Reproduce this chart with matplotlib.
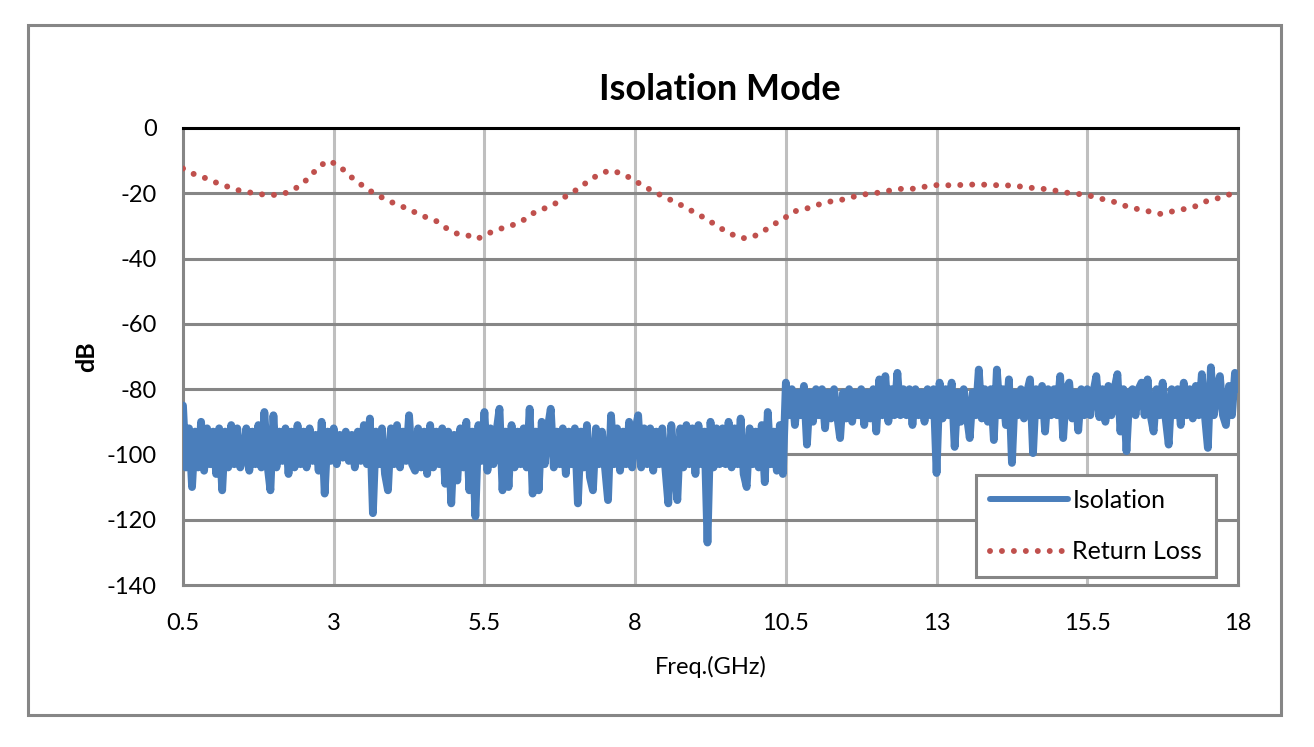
import matplotlib

matplotlib.use("Agg")

import numpy as np
import matplotlib.pyplot as plt
from matplotlib.patches import Rectangle

plt.rcParams["font.family"] = ["Lato", "DejaVu Sans"]
plt.rcParams["axes.unicode_minus"] = False

# Isolation trace, read every 0.05 GHz from 0.5 to 18 GHz
iso_start, iso_step = 0.5, 0.05
isolation_db = [
    # 0.5 - 1.45
    -85, -104, -92, -110, -93, -104, -90, -105, -92, -103,
    -93, -106, -92, -111, -93, -104, -91, -103, -92, -104,
    # 1.5 - 2.45
    -101, -92, -105, -93, -103, -91, -104, -87, -103, -111,
    -88, -104, -93, -102, -92, -106, -93, -104, -91, -103,
    # 2.5 - 3.45
    -93, -104, -92, -102, -94, -105, -90, -112, -93, -102,
    -92, -103, -94, -101, -93, -102, -94, -104, -93, -102,
    # 3.5 - 4.45
    -91, -103, -89, -118, -93, -103, -92, -106, -111, -92,
    -103, -91, -104, -93, -102, -88, -103, -105, -92, -104,
    # 4.5 - 5.45
    -93, -106, -91, -104, -93, -103, -92, -109, -93, -115,
    -94, -108, -92, -104, -90, -111, -93, -119, -91, -102,
    # 5.5 - 6.45
    -87, -105, -92, -103, -93, -86, -111, -93, -110, -91,
    -104, -93, -103, -92, -104, -86, -112, -93, -111, -90,
    # 6.5 - 7.45
    -103, -92, -86, -104, -93, -103, -92, -106, -93, -103,
    -92, -115, -93, -104, -91, -107, -111, -92, -103, -93,
    # 7.5 - 8.45
    -104, -114, -88, -103, -92, -105, -93, -103, -90, -104,
    -93, -88, -104, -92, -103, -92, -105, -93, -103, -92,
    # 8.5 - 9.45
    -104, -115, -91, -103, -114, -92, -104, -91, -103, -92,
    -106, -91, -103, -93, -127, -90, -104, -92, -103, -92,
    # 9.5 - 10.45
    -103, -90, -104, -92, -103, -89, -106, -110, -92, -103,
    -93, -104, -91, -108.5, -87, -103, -93, -105, -91, -106,
    # 10.5 - 11.45
    -78, -88, -80, -91, -81, -88, -79, -97, -81, -90,
    -80, -88, -80, -92, -81, -89, -80, -88, -95, -81,
    # 11.5 - 12.45
    -89, -80, -90, -81, -88, -80, -91, -81, -89, -80,
    -93, -77, -88, -76, -90, -80, -88, -75, -88, -80,
    # 12.5 - 13.45
    -88, -80, -91, -80, -88, -81, -90, -80, -88, -80,
    -105.7, -78, -89, -80, -88, -78, -97.7, -81, -90, -80,
    # 13.5 - 14.45
    -88, -95, -81, -88, -74, -89, -80, -90, -80, -95.6,
    -74, -88, -80, -91, -77, -102.6, -81, -88, -80, -89,
    # 14.5 - 15.45
    -81, -77, -99.6, -80, -88, -79, -93, -80, -88, -80,
    -88, -76, -95, -80, -78, -89, -81, -92.7, -80, -88,
    # 15.5 - 16.45
    -80, -88, -81, -76, -88.6, -80, -90, -79, -88, -80,
    -75.4, -93, -80, -99, -81, -80, -88, -80, -78, -88,
    # 16.5 - 17.45
    -77, -88, -93, -80, -88, -78, -89, -97, -80, -88,
    -80, -91, -78, -88, -80, -89, -79, -88, -75.4, -88,
    # 17.5 - 18.0
    -98, -73.3, -88, -80, -76, -88, -91, -79, -88, -75, -80,
]
iso_freq = iso_start + iso_step * np.arange(len(isolation_db))

# Return loss trace
rl_freq = [
    0.50, 0.68, 0.88, 1.06, 1.26, 1.46, 1.66, 1.87, 2.08, 2.28,
    2.45, 2.61, 2.74, 2.91, 3.09, 3.24, 3.40, 3.57, 3.75, 3.93,
    4.13, 4.31, 4.50, 4.70, 4.86, 5.05, 5.24, 5.38, 5.56, 5.76,
    5.96, 6.14, 6.31, 6.50, 6.69, 6.86, 7.04, 7.20, 7.38, 7.57,
    7.76, 7.95, 8.12, 8.30, 8.49, 8.68, 8.86, 9.04, 9.22, 9.39,
    9.57, 9.76, 9.94, 10.12, 10.30, 10.47, 10.60, 10.80, 10.95, 11.11,
    11.30, 11.49, 11.67, 11.85, 12.04, 12.24, 12.43, 12.63, 12.83, 13.04,
    13.25, 13.45, 13.66, 13.87, 14.08, 14.28, 14.48, 14.69, 14.90, 15.10,
    15.31, 15.51, 15.71, 15.91, 16.10, 16.30, 16.51, 16.71, 16.90, 17.09,
    17.29, 17.48, 17.67, 17.87, 18.00,
]
return_loss_db = [
    -12.4, -14.1, -15.4, -16.8, -18.1, -19.3, -19.9, -20.5, -20.5, -19.5,
    -17.5, -14.9, -12.0, -10.0, -11.5, -14.3, -16.6, -18.9, -20.8, -22.5,
    -24.0, -25.5, -27.1, -28.5, -30.6, -32.4, -33.0, -34.0, -32.3, -30.9,
    -29.8, -28.3, -26.1, -24.6, -23.0, -20.8, -18.8, -16.6, -14.4, -13.0,
    -13.8, -15.6, -17.6, -19.4, -21.2, -22.8, -24.6, -26.4, -28.3, -30.4,
    -32.3, -33.8, -33.5, -31.7, -29.5, -27.8, -25.7, -24.9, -24.1, -23.0,
    -22.3, -21.8, -20.8, -20.2, -19.8, -19.1, -18.6, -18.6, -17.9, -17.4,
    -17.6, -17.4, -17.3, -17.4, -17.6, -17.6, -18.2, -18.5, -18.9, -19.7,
    -20.1, -20.6, -21.6, -22.4, -23.7, -24.7, -25.5, -26.3, -25.6, -24.9,
    -24.0, -22.4, -21.5, -20.3, -19.8,
]

x_ticks = [0.5, 3, 5.5, 8, 10.5, 13, 15.5, 18]
x_tick_labels = ["0.5", "3", "5.5", "8", "10.5", "13", "15.5", "18"]
y_ticks = [0, -20, -40, -60, -80, -100, -120, -140]

W, H = 1314, 747
fig = plt.figure(figsize=(W / 100, H / 100), dpi=100)
ax = fig.add_axes([183 / W, 1 - 585 / H, (1238 - 183) / W, (585 - 128) / H])

dark_grey = "#868686"
light_grey = "#bfbfbf"

ax.plot(iso_freq, isolation_db, color="#4a7ebb", lw=5.6,
        solid_joinstyle="round", solid_capstyle="round",
        label="Isolation", zorder=3)
ax.plot(rl_freq, return_loss_db, color="#c0504d", lw=4.3,
        linestyle=(0, (0.001, 2.0)), dash_capstyle="round",
        label="Return Loss", zorder=3)

ax.set_xlim(0.5, 18)
ax.set_ylim(-140, 0)
ax.set_xticks(x_ticks)
ax.set_xticklabels(x_tick_labels)
ax.set_yticks(y_ticks)

for xv in x_ticks[1:-1]:
    ax.axvline(xv, color=light_grey, lw=2.2, zorder=1)
for yv in y_ticks[1:-1]:
    ax.axhline(yv, color=dark_grey, lw=2.2, zorder=1)

for side in ("left", "bottom", "right"):
    ax.spines[side].set_color(dark_grey)
    ax.spines[side].set_linewidth(2.2)
ax.spines["top"].set_color("black")
ax.spines["top"].set_linewidth(2.2)

ax.tick_params(axis="both", length=0, labelsize=17, colors="black")
ax.tick_params(axis="x", pad=20)
ax.tick_params(axis="y", pad=19)

ax.set_xlabel("Freq.(GHz)", fontsize=17, labelpad=16)
ax.set_ylabel("dB", fontsize=18, fontweight="bold", labelpad=6)
fig.text(720 / W, 1 - 90 / H, "Isolation Mode", fontsize=26,
         fontweight="bold", ha="center", va="center")

leg = ax.legend(loc="lower right",
                bbox_to_anchor=(1216 / W, 1 - 577 / H),
                bbox_transform=fig.transFigure,
                fontsize=18, frameon=True, fancybox=False,
                handlelength=3.1, handletextpad=0.2,
                labelspacing=1.15, borderpad=0.55, borderaxespad=0)
leg.get_frame().set_edgecolor(dark_grey)
leg.get_frame().set_linewidth(2.2)
leg.get_frame().set_alpha(1)
leg.get_lines()[0].set_linewidth(4.3)

fig.patches.append(Rectangle((28 / W, 1 - 715 / H), (1281 - 28) / W,
                             (715 - 25) / H, transform=fig.transFigure,
                             fill=False, edgecolor=dark_grey, lw=2.2))

fig.savefig("out.png", dpi=100)
